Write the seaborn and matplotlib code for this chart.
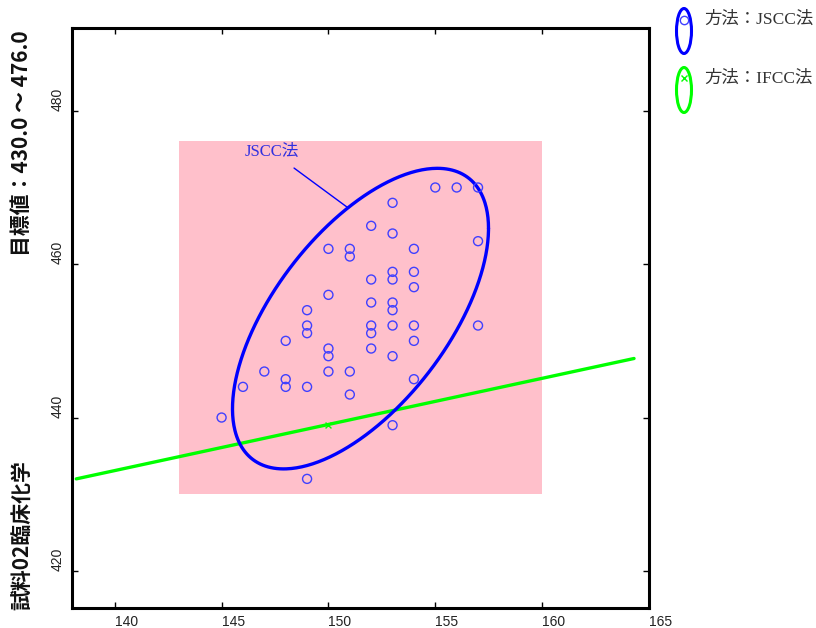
import numpy as np
import pandas as pd
import matplotlib
matplotlib.use("Agg")
import matplotlib.pyplot as plt
from matplotlib.patches import Rectangle, Ellipse
import seaborn as sns

# --- data -------------------------------------------------------------
sample_name = "試料02臨床化学"
target_label = "目標値：430.0 ～ 476.0"
method_labels = ["方法：JSCC法", "方法：IFCC法"]
method_colors = ["#0000ff", "#00ff00"]

# JSCC measurements (x, y)
jscc_x = [155, 156, 157, 153, 152, 153, 157, 150, 151, 154, 151, 153, 154,
          152, 153, 154, 150, 152, 153, 149, 153, 149, 152, 153, 154, 157,
          149, 152, 148, 154, 150, 152, 150, 153, 147, 150, 151, 148, 154,
          146, 148, 149, 151, 153, 145, 149]
jscc_y = [470, 470, 470, 468, 465, 464, 463, 462, 462, 462, 461, 459, 459,
          458, 458, 457, 456, 455, 455, 454, 454, 452, 452, 452, 452, 452,
          451, 451, 450, 450, 449, 449, 448, 448, 446, 446, 446, 445, 445,
          444, 444, 444, 443, 439, 440, 432]

# JSCC confidence ellipse: centre, half extents, correlation
jscc_center = (151.5, 452.9)
jscc_half = (5.99, 19.6)
jscc_r = 0.60

# IFCC result and its (degenerate) ellipse drawn as a line
ifcc_x = [150]
ifcc_y = [439]
ifcc_line_x = [138.2, 164.3]
ifcc_line_y = [432.0, 447.7]

# target range box
target_x = (143, 160)
target_y = (430, 476)

xlim = (138, 165)
ylim = (415.2, 490.8)
xticks = [140, 145, 150, 155, 160, 165]
yticks = [420, 440, 460, 480]

# --- styling ----------------------------------------------------------
sns.set_style("white")
cjk = "Noto Sans CJK JP"
serif_fam = ["Liberation Serif", cjk]
tick_fam = ["Liberation Sans Narrow", "Liberation Sans", "DejaVu Sans"]
plt.rcParams["font.family"] = [cjk, "DejaVu Sans"]

fig = plt.figure(figsize=(8.16, 6.28), dpi=100)
ax = fig.add_axes([72 / 816, 1 - 607.7 / 628, (649 - 72) / 816, (607.7 - 28) / 628])
ax.set_xlim(*xlim)
ax.set_ylim(*ylim)

# target range
ax.add_patch(Rectangle((target_x[0], target_y[0]), target_x[1] - target_x[0],
                       target_y[1] - target_y[0], facecolor="#ffc0cb",
                       edgecolor="none", zorder=0))

# IFCC line
sns.lineplot(x=ifcc_line_x, y=ifcc_line_y, ax=ax, color=method_colors[1],
             linewidth=2.4, sort=False, estimator=None, zorder=3)
sns.scatterplot(x=ifcc_x, y=ifcc_y, ax=ax, marker="x", color=method_colors[1],
                s=18, linewidth=1, zorder=2)

# JSCC ellipse
t = np.linspace(0, 2 * np.pi, 400)
ex = jscc_center[0] + jscc_half[0] * np.cos(t)
ey = jscc_center[1] + jscc_half[1] * (jscc_r * np.cos(t) + np.sqrt(1 - jscc_r ** 2) * np.sin(t))
ell = pd.DataFrame({"x": ex, "y": ey})
sns.lineplot(data=ell, x="x", y="y", ax=ax, sort=False, estimator=None,
             color=method_colors[0], linewidth=2.4, zorder=4)

# JSCC points
sns.scatterplot(x=jscc_x, y=jscc_y, ax=ax, marker="o", facecolor="none",
                edgecolor="#4040ff", s=42, linewidth=1.0, zorder=5)

# label for ellipse
ax.annotate("JSCC法", xy=(150.94, 467.3), xytext=(147.36, 474.65),
            ha="center", va="center", color="#3030e0", fontsize=12,
            family=serif_fam,
            arrowprops=dict(arrowstyle="-", color="#0000ff", lw=1.0,
                            shrinkA=6, shrinkB=0))

# axes and ticks
ax.set_xticks(xticks)
ax.set_yticks(yticks)
ax.set_xlabel("")
ax.set_ylabel("")
ax.tick_params(direction="in", length=4, width=1, top=True, right=True,
               left=True, bottom=True, labelsize=10, colors="black",
               labelcolor="#222222")
ax.tick_params(axis="x", pad=5)
ax.tick_params(axis="y", pad=5)
for lbl in ax.get_xticklabels():
    lbl.set_ha("left")
    lbl.set_family(tick_fam)
for lbl in ax.get_yticklabels():
    lbl.set_rotation(90)
    lbl.set_va("bottom")
    lbl.set_family(tick_fam)
for sp in ax.spines.values():
    sp.set_visible(True)
    sp.set_color("black")
    sp.set_linewidth(2.2)

# y-axis caption in two parts
fig.text(22 / 816, 1 - 610 / 628, sample_name, rotation=90, ha="center",
         va="bottom", fontsize=15, fontweight="bold", color="#111111")
fig.text(22 / 816, 1 - 30 / 628, target_label, rotation=90, ha="center",
         va="top", fontsize=15, fontweight="bold", color="#111111")

# legend with ellipse handles
legend_rows = [31, 90]
markers = ["o", "x"]
for lab, col, yc, mk in zip(method_labels, method_colors, legend_rows, markers):
    fig.add_artist(Ellipse((684 / 816, 1 - yc / 628), 15 / 816, 45 / 628,
                           transform=fig.transFigure, facecolor="none",
                           edgecolor=col, linewidth=2.2))
    if mk == "o":
        fig.add_artist(plt.Line2D([684 / 816], [1 - (yc - 11) / 628], marker="o",
                                  markersize=6, markerfacecolor="none",
                                  markeredgecolor="#4040ff", markeredgewidth=1,
                                  transform=fig.transFigure))
    else:
        fig.add_artist(plt.Line2D([684 / 816], [1 - (yc - 12) / 628], marker="x",
                                  markersize=4, markeredgecolor=col,
                                  markeredgewidth=1, transform=fig.transFigure))
    fig.text(704 / 816, 1 - (yc - 11) / 628, lab, ha="left", va="center",
             fontsize=12.5, family=serif_fam, color="#333333")

fig.savefig("out.png", dpi=100)
